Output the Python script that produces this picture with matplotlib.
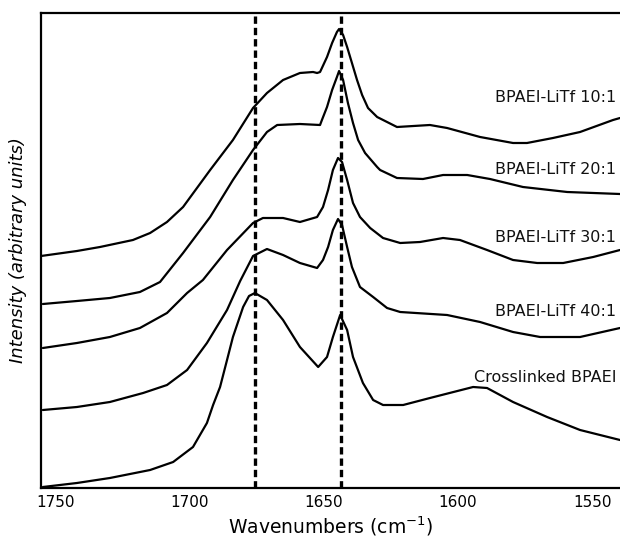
import numpy as np
import matplotlib.pyplot as plt

# FTIR spectra (carbonyl / amide region), offset vertically for clarity
wn_10 = [1755.6, 1742.2, 1733.6, 1721.3, 1714.9, 1708.6, 1702.6, 1692.5, 1684.0, 1676.5,
         1671.3, 1665.3, 1659.0, 1654.1, 1652.6, 1651.5, 1650.8, 1648.9, 1647.0, 1645.2,
         1644.4, 1642.9, 1641.4, 1639.6, 1637.7, 1635.8, 1633.6, 1630.2, 1626.5, 1622.8,
         1610.5, 1604.1, 1591.8, 1579.5, 1574.3, 1564.6, 1554.5, 1542.2, 1539.6]
int_10 = [232, 237, 241, 248, 255, 266, 281, 318, 348, 380,
          395, 408, 415, 416, 415, 416, 420, 431, 445, 456,
          459, 453, 441, 425, 408, 393, 380, 371, 366, 361,
          363, 360, 351, 345, 345, 350, 356, 368, 370]

wn_20 = [1754.9, 1742.2, 1729.9, 1718.7, 1711.2, 1702.6, 1692.5, 1684.0, 1676.5, 1671.3,
         1667.5, 1659.0, 1651.5, 1650.8, 1648.9, 1647.0, 1645.2, 1644.4, 1642.9, 1641.1,
         1639.2, 1637.3, 1634.7, 1630.2, 1629.1, 1622.8, 1613.1, 1605.6, 1596.6, 1588.1,
         1575.8, 1559.3, 1539.6]
int_20 = [184, 187, 190, 196, 206, 235, 271, 308, 338, 356,
          363, 364, 363, 368, 381, 398, 411, 417, 408, 385,
          365, 348, 335, 321, 318, 310, 309, 313, 313, 309,
          301, 296, 294]

wn_30 = [1754.9, 1742.2, 1729.9, 1718.7, 1708.6, 1701.1, 1695.2, 1686.2, 1676.5, 1672.8,
         1665.3, 1659.0, 1652.6, 1650.4, 1648.5, 1646.7, 1644.8, 1643.3, 1641.4, 1639.2,
         1636.6, 1632.8, 1628.0, 1621.6, 1614.2, 1605.6, 1599.3, 1589.2, 1579.5, 1570.5,
         1560.8, 1549.6, 1539.6]
int_30 = [140, 145, 151, 160, 175, 195, 208, 238, 265, 270,
          270, 266, 271, 281, 298, 318, 330, 326, 308, 285,
          271, 260, 250, 245, 246, 250, 248, 238, 228, 225,
          225, 231, 238]

wn_40 = [1754.9, 1742.2, 1729.9, 1717.5, 1708.6, 1701.1, 1693.7, 1686.2, 1681.3, 1676.5,
         1671.3, 1665.3, 1659.0, 1652.6, 1650.4, 1648.5, 1646.7, 1644.8, 1643.3, 1641.4,
         1639.6, 1636.6, 1631.7, 1626.5, 1621.6, 1604.1, 1591.8, 1579.5, 1569.4, 1554.5,
         1539.6]
int_40 = [78, 81, 86, 95, 103, 118, 145, 178, 207, 232,
          239, 233, 225, 220, 228, 241, 258, 269, 263, 241,
          221, 201, 191, 180, 176, 173, 166, 156, 151, 151,
          160]

wn_xl = [1754.9, 1742.2, 1729.9, 1714.9, 1706.3, 1698.9, 1693.7, 1691.4, 1688.8, 1686.2,
         1684.0, 1680.2, 1678.0, 1675.8, 1671.3, 1665.3, 1659.0, 1652.2, 1648.9, 1646.7,
         1644.0, 1641.4, 1639.2, 1635.5, 1631.7, 1628.0, 1620.5, 1610.5, 1594.4, 1589.2,
         1579.5, 1566.8, 1554.5, 1539.6]
int_xl = [1, 5, 10, 18, 26, 41, 65, 83, 101, 128,
          151, 181, 192, 195, 188, 168, 141, 121, 131, 151,
          173, 158, 131, 105, 88, 83, 83, 90, 101, 100,
          86, 71, 58, 48]

spettri = [(wn_10, int_10), (wn_20, int_20), (wn_30, int_30), (wn_40, int_40), (wn_xl, int_xl)]
etichette = ["BPAEI-LiTf 10:1", "BPAEI-LiTf 20:1", "BPAEI-LiTf 30:1",
             "BPAEI-LiTf 40:1", "Crosslinked BPAEI"]
y_etichette = [390, 318, 250, 176, 110]

bande = [1675.7, 1643.7]  # posizioni delle linee tratteggiate
xticks = [1750, 1700, 1650, 1600, 1550]

fig = plt.figure(figsize=(6.2, 5.42), dpi=100)
ax = fig.add_axes([41 / 620, 1 - 488 / 542, 1 - 41 / 620, (488 - 13) / 542])

for wn, inten in spettri:
    ax.plot(wn, inten, color="black", linewidth=1.6,
            solid_joinstyle="round", solid_capstyle="round")

for b in bande:
    ax.axvline(b, color="black", linewidth=2.4, linestyle=(0, (2.2, 1.2)))

for testo, y in zip(etichette, y_etichette):
    ax.text(1541, y, testo, ha="right", va="center", fontsize=11.5, color="#111111")

ax.set_xlim(1755.6, 1539.6)
ax.set_ylim(0, 475)
ax.set_xticks(xticks)
ax.set_xticklabels([str(t) for t in xticks], fontsize=11)
ax.tick_params(axis="x", length=0, pad=5)
ax.set_yticks([])
ax.spines["right"].set_visible(False)
for s in ["left", "top", "bottom"]:
    ax.spines[s].set_linewidth(1.6)

ax.set_xlabel("Wavenumbers (cm$^{\\mathregular{-1}}$)", fontsize=13.5, labelpad=3)
ax.set_ylabel("Intensity (arbitrary units)", fontsize=13, style="italic", labelpad=10)

fig.savefig("out.png", dpi=100)
